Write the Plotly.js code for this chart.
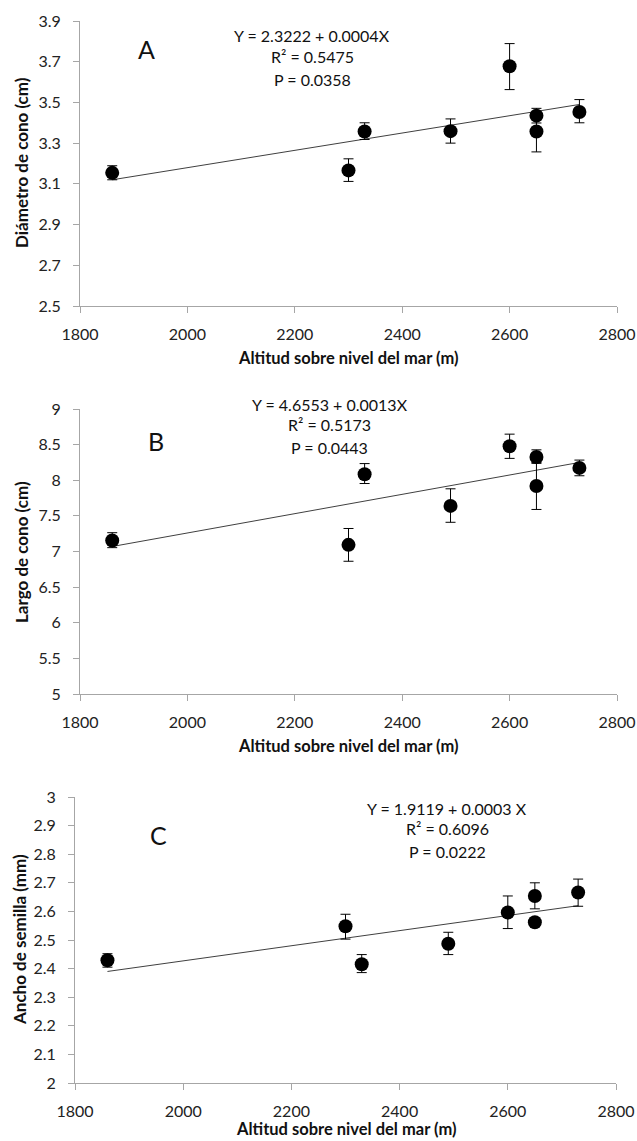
<!DOCTYPE html>
<html>
<head>
<meta charset="utf-8">
<script src="https://cdn.plot.ly/plotly-3.0.1.min.js"></script>
<style>html,body{margin:0;padding:0;background:#fff;}#chart{width:637px;height:1141px;}</style>
</head>
<body>
<div id="chart"></div>
<script>
// ---- data ----
const altitud = [1860, 2300, 2330, 2490, 2600, 2650, 2650, 2730];

const diametro = [3.154, 3.166, 3.357, 3.359, 3.678, 3.435, 3.357, 3.453];
const diametroErrPlus = [0.035, 0.057, 0.043, 0.060, 0.111, 0.036, 0.080, 0.061];
const diametroErrMinus = [0.034, 0.054, 0.039, 0.059, 0.115, 0.036, 0.100, 0.053];
const trendXA = [1860, 2730];
const trendYA = [3.12, 3.49];

const largo = [7.154, 7.093, 8.084, 7.640, 8.477, 8.327, 7.920, 8.173];
const largoErrPlus = [0.11, 0.23, 0.15, 0.24, 0.17, 0.10, 0.33, 0.11];
const largoErrMinus = [0.10, 0.23, 0.13, 0.23, 0.17, 0.09, 0.33, 0.11];
const trendXB = [1860, 2730];
const trendYB = [7.07, 8.25];

const ancho = [2.429, 2.548, 2.415, 2.487, 2.596, 2.654, 2.562, 2.666];
const anchoErrPlus = [0.023, 0.042, 0.034, 0.040, 0.058, 0.046, 0.010, 0.047];
const anchoErrMinus = [0.024, 0.045, 0.029, 0.038, 0.056, 0.045, 0.010, 0.048];
const trendXC = [1860, 2730];
const trendYC = [2.39, 2.62];

const panelLabels = ["A", "B", "C"];
const eqA = ["Y = 2.3222 + 0.0004X", "R\u00b2 = 0.5475", "P = 0.0358"];
const eqB = ["Y = 4.6553 + 0.0013X", "R\u00b2 = 0.5173", "P = 0.0443"];
const eqC = ["Y = 1.9119 + 0.0003 X", "R\u00b2 = 0.6096", "P = 0.0222"];
const yTitles = ["Diámetro de cono (cm)", "Largo de cono (cm)", "Ancho de semilla (mm)"];
const xTitle = "Altitud sobre nivel del mar (m)";

// ---- layout helpers ----
const W = 637, H = 1141;
const px = x => x / W;
const py = y => 1 - y / H;
const FONT = "Lato, 'Open Sans', sans-serif";
const AXC = "#a6a6a6";

function pointTrace(y, ep, em, xa, ya) {
  return {
    type: "scatter", mode: "markers", x: altitud, y: y, xaxis: xa, yaxis: ya,
    marker: {color: "#000", size: 14},
    error_y: {type: "data", symmetric: false, array: ep, arrayminus: em,
              color: "#000", thickness: 1, width: 5},
    showlegend: false, hoverinfo: "x+y"
  };
}
function trendTrace(x, y, xa, ya) {
  return {type: "scatter", mode: "lines", x: x, y: y, xaxis: xa, yaxis: ya,
          line: {color: "#404040", width: 1}, showlegend: false, hoverinfo: "skip"};
}

const traces = [
  trendTrace(trendXA, trendYA, "x", "y"),
  pointTrace(diametro, diametroErrPlus, diametroErrMinus, "x", "y"),
  trendTrace(trendXB, trendYB, "x2", "y2"),
  pointTrace(largo, largoErrPlus, largoErrMinus, "x2", "y2"),
  trendTrace(trendXC, trendYC, "x3", "y3"),
  pointTrace(ancho, anchoErrPlus, anchoErrMinus, "x3", "y3")
];

function xAxis(dom, anchor) {
  return {domain: dom, anchor: anchor, range: [1800, 2800], tick0: 1800, dtick: 200,
          showline: true, linecolor: AXC, linewidth: 1, ticks: "outside", ticklen: 6,
          tickcolor: AXC, showgrid: false, zeroline: false, ticklabelstandoff: 8,
          tickfont: {family: FONT, size: 16, color: "#222"}, fixedrange: true};
}
function yAxis(dom, anchor, range, dtick) {
  return {domain: dom, anchor: anchor, range: range, tick0: range[0], dtick: dtick,
          showline: true, linecolor: AXC, linewidth: 1, ticks: "outside", ticklen: 6,
          tickcolor: AXC, showgrid: false, zeroline: false, ticklabelstandoff: 9,
          tickfont: {family: FONT, size: 16, color: "#222"}, fixedrange: true};
}

const ann = [];
function addText(text, x, y, size, bold, angle) {
  ann.push({text: bold ? "<b>" + text + "</b>" : text, xref: "paper", yref: "paper",
            x: px(x), y: py(y), xanchor: "center", yanchor: "middle", showarrow: false,
            textangle: angle || 0, font: {family: FONT, size: size, color: "#111"}});
}
// panel letters
addText(panelLabels[0], 146, 49, 25);
addText(panelLabels[1], 156, 441, 25);
addText(panelLabels[2], 158, 835, 25);
// equations
[[eqA, 312, [35, 57, 80]], [eqB, 330, [404, 425, 448]], [eqC, 447, [808, 829, 851]]]
  .forEach(([lines, cx, ys]) => lines.forEach((t, i) => addText(t, cx, ys[i], 16)));
// axis titles
addText(xTitle, 348, 358, 16.5, true);
addText(xTitle, 348, 746, 16.5, true);
addText(xTitle, 346, 1129, 16.5, true);
addText(yTitles[0], 22, 163, 17, true, -90);
addText(yTitles[1], 22, 552, 17, true, -90);
addText(yTitles[2], 19, 940, 17, true, -90);

const layout = {
  width: W, height: H, margin: {l: 0, r: 0, t: 0, b: 0},
  paper_bgcolor: "#fff", plot_bgcolor: "#fff", showlegend: false,
  font: {family: FONT},
  xaxis: xAxis([px(80), px(617)], "y"),
  yaxis: yAxis([py(306), py(21)], "x", [2.5, 3.9], 0.2),
  xaxis2: xAxis([px(80), px(617)], "y2"),
  yaxis2: yAxis([py(694), py(409)], "x2", [5, 9], 0.5),
  xaxis3: xAxis([px(75), px(616)], "y3"),
  yaxis3: yAxis([py(1083), py(797)], "x3", [2, 3], 0.1),
  annotations: ann
};

Plotly.newPlot("chart", traces, layout, {displayModeBar: false, staticPlot: true});
</script>
</body>
</html>
